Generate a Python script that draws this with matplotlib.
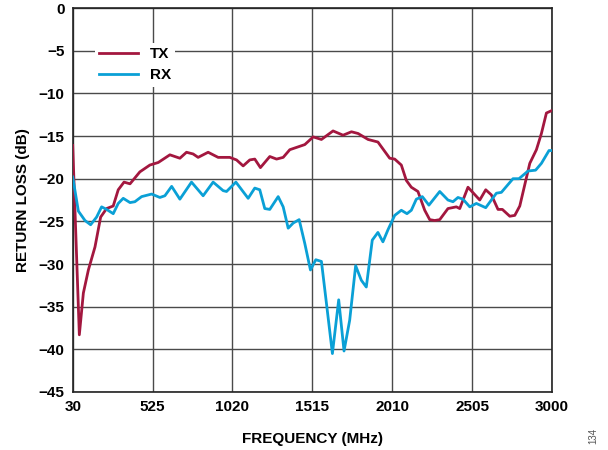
import matplotlib.pyplot as plt

plt.rcParams['font.family'] = ['Liberation Sans', 'DejaVu Sans']

# TX return loss (MHz, dB)
tx_freq = [30, 71, 96, 127, 168, 203, 240, 281, 312, 348, 385, 446, 508, 560,
           632, 694, 735, 776, 807, 869, 931, 1003, 1045, 1086, 1127, 1158,
           1193, 1251, 1293, 1334, 1375, 1437, 1468, 1520, 1571, 1643, 1705,
           1757, 1798, 1860, 1921, 1994, 2025, 2066, 2097, 2128, 2169, 2211,
           2242, 2273, 2304, 2355, 2407, 2428, 2479, 2552, 2589, 2624, 2665,
           2692, 2738, 2769, 2800, 2862, 2903, 2934, 2965, 3000]
tx_db = [-16.1, -38.3, -33.4, -30.7, -28.0, -24.5, -23.5, -23.2, -21.3, -20.4,
         -20.6, -19.2, -18.4, -18.1, -17.2, -17.6, -16.9, -17.1, -17.5, -16.9,
         -17.5, -17.5, -17.8, -18.5, -17.8, -17.7, -18.7, -17.4, -17.7, -17.5,
         -16.6, -16.2, -16.0, -15.1, -15.4, -14.4, -14.9, -14.5, -14.7, -15.4,
         -15.7, -17.6, -17.7, -18.4, -20.2, -21.0, -21.5, -23.7, -24.8, -24.9,
         -24.8, -23.5, -23.3, -23.5, -21.0, -22.5, -21.3, -21.9, -23.6, -23.6,
         -24.4, -24.3, -23.2, -18.2, -16.6, -14.7, -12.3, -12.0]

# RX return loss (MHz, dB)
rx_freq = [30, 65, 106, 141, 178, 209, 240, 281, 312, 343, 385, 415, 457, 519,
           570, 601, 643, 694, 766, 838, 900, 962, 983, 1041, 1117, 1158, 1189,
           1220, 1251, 1303, 1334, 1365, 1396, 1433, 1468, 1503, 1536, 1571,
           1602, 1639, 1678, 1711, 1746, 1783, 1818, 1849, 1886, 1921, 1952,
           1983, 2025, 2066, 2101, 2128, 2159, 2196, 2237, 2304, 2355, 2386,
           2417, 2448, 2490, 2531, 2589, 2655, 2686, 2758, 2795, 2851, 2898,
           2934, 2981, 3000]
rx_db = [-19.8, -23.8, -24.9, -25.4, -24.5, -23.3, -23.6, -24.1, -22.9, -22.3,
         -22.8, -22.7, -22.1, -21.8, -22.2, -22.0, -20.9, -22.4, -20.4, -22.0,
         -20.4, -21.4, -21.5, -20.4, -22.3, -21.1, -21.3, -23.5, -23.6, -22.1,
         -23.3, -25.8, -25.2, -24.8, -27.6, -30.7, -29.5, -29.7, -34.6, -40.5,
         -34.2, -40.2, -36.6, -30.2, -31.9, -32.7, -27.2, -26.3, -27.4, -26.0,
         -24.3, -23.7, -24.1, -23.7, -22.4, -22.1, -23.1, -21.5, -22.5, -22.7,
         -22.2, -22.4, -23.3, -22.9, -23.4, -21.7, -21.6, -20.0, -20.0, -19.1,
         -19.0, -18.2, -16.7, -16.7]

x_ticks = [30, 525, 1020, 1515, 2010, 2505, 3000]
y_ticks = [0, -5, -10, -15, -20, -25, -30, -35, -40, -45]

fig = plt.figure(figsize=(6.08, 4.5), dpi=100)
ax = fig.add_axes([0.1196, 0.129, 0.7884, 0.853])

ax.plot(tx_freq, tx_db, color='#A3173F', lw=2.0, label='TX', zorder=3)
ax.plot(rx_freq, rx_db, color='#0AA0D6', lw=2.0, label='RX', zorder=3)

ax.set_xlim(30, 3000)
ax.set_ylim(-45, 0)
ax.set_xticks(x_ticks)
ax.set_yticks(y_ticks)
ax.grid(True, color='#4a4a4a', lw=1.0)
ax.tick_params(length=0, pad=6, labelsize=11)
for lbl in ax.get_xticklabels() + ax.get_yticklabels():
    lbl.set_fontweight('bold')
for s in ax.spines.values():
    s.set_color('#222222')
    s.set_linewidth(1.2)

ax.set_xlabel('FREQUENCY (MHz)', fontsize=11, fontweight='bold', labelpad=13)
ax.set_ylabel('RETURN LOSS (dB)', fontsize=11, fontweight='bold', labelpad=6)

leg = ax.legend(loc='upper left', bbox_to_anchor=(0.03, 0.93), frameon=True,
                fancybox=False, edgecolor='none', framealpha=1,
                handlelength=2.5, prop={'weight': 'bold', 'size': 11},
                borderpad=0.3, labelspacing=0.45)

fig.text(0.976, 0.013, '134', rotation=90, fontsize=7, color='#555555',
         ha='center', va='bottom')

fig.savefig('out.png', dpi=100)
